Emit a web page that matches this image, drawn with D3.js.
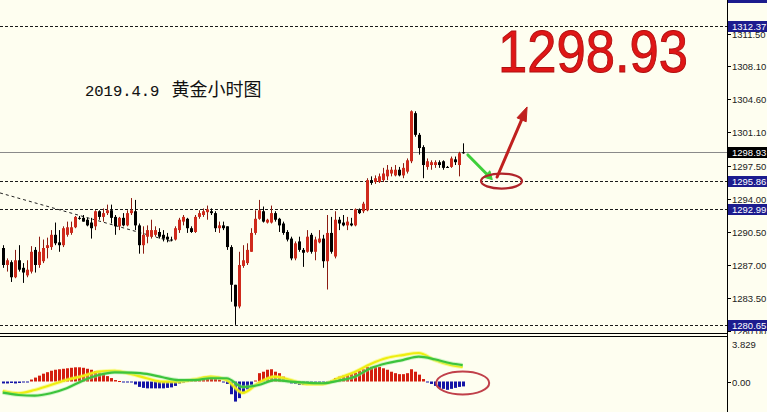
<!DOCTYPE html>
<html><head><meta charset="utf-8">
<script src="https://cdn.jsdelivr.net/npm/d3@7"></script>
<style>html,body{margin:0;padding:0;background:#fefef0;overflow:hidden}</style>
</head><body>
<svg id="c" width="767" height="412"></svg>
<script>
// ---------- DATA ----------
const openP = [
1288.8,1287.0,1287.3,1285.7,1287.5,1286.7,1285.9,1286.3,1288.6,1287.0,
1287.4,1288.8,1288.9,1290.2,1289.4,1289.1,1290.2,1290.4,1291.0,1292.0,
1292.0,1291.8,1291.5,1291.1,1292.7,1292.1,1292.5,1292.8,1292.1,1291.1,
1292.0,1291.2,1292.5,1292.7,1291.2,1289.1,1290.0,1290.0,1290.2,1290.5,
1290.2,1290.0,1289.7,1289.7,1290.7,1291.6,1291.9,1290.9,1290.5,1292.1,
1292.3,1292.6,1292.7,1292.5,1290.9,1291.2,1291.1,1288.9,1284.9,1282.6,
1286.9,1287.2,1288.4,1290.4,1291.9,1292.7,1291.5,1291.5,1292.5,1291.9,
1291.4,1290.5,1289.8,1287.7,1289.5,1288.6,1288.4,1290.2,1288.4,1289.4,
1289.8,1287.4,1290.4,1287.9,1291.8,1291.5,1291.2,1291.4,1291.2,1292.9,
1292.7,1292.8,1296.0,1295.8,1295.8,1296.0,1296.4,1296.7,1296.5,1297.1,
1296.5,1296.9,1298.0,1303.1,1300.8,1299.5,1297.4,1297.6,1297.6,1297.9,
1298.0,1297.4,1297.4,1298.2,1297.6,1298.95];
const highP = [
1289.1,1287.7,1287.5,1288.6,1289.1,1287.2,1287.5,1289.0,1288.9,1290.0,
1289.7,1289.9,1290.7,1291.5,1290.7,1291.1,1291.6,1291.6,1292.2,1292.2,
1292.3,1292.0,1292.0,1292.8,1292.8,1293.0,1293.4,1293.4,1292.3,1292.1,
1292.5,1292.8,1294.1,1293.9,1291.4,1291.1,1291.2,1291.8,1291.1,1290.9,
1290.7,1290.4,1290.0,1291.1,1292.0,1292.3,1292.0,1291.1,1292.3,1292.8,
1293.0,1293.3,1293.0,1292.7,1291.6,1291.6,1291.1,1289.1,1284.9,1288.4,
1289.1,1289.3,1290.9,1292.8,1293.9,1293.2,1291.9,1293.3,1292.7,1292.0,
1291.6,1290.7,1290.0,1289.5,1290.0,1288.8,1290.7,1290.4,1290.0,1290.7,
1290.2,1292.3,1292.1,1292.7,1292.1,1292.3,1292.1,1292.0,1293.0,1293.0,
1293.7,1296.2,1296.4,1296.5,1296.7,1297.3,1297.6,1297.4,1297.6,1297.4,
1297.8,1298.3,1303.4,1303.3,1301.0,1299.7,1298.3,1298.1,1298.1,1298.1,
1298.1,1297.5,1298.5,1298.5,1299.0,1299.9];
const lowP = [
1286.7,1286.3,1285.2,1285.6,1286.3,1285.1,1285.7,1286.1,1286.2,1286.7,
1287.2,1287.7,1288.6,1289.1,1288.4,1288.9,1290.0,1290.2,1290.9,1291.8,
1291.6,1291.1,1289.8,1290.7,1291.8,1291.6,1292.3,1291.4,1290.2,1290.7,
1291.1,1291.1,1292.3,1290.7,1288.2,1288.2,1289.3,1289.8,1290.0,1289.8,
1289.5,1289.4,1289.5,1289.6,1290.4,1291.2,1290.4,1290.4,1290.4,1291.9,
1292.1,1291.8,1292.3,1290.5,1290.4,1290.7,1288.6,1283.1,1280.65,1282.4,
1286.7,1287.0,1288.4,1290.2,1291.8,1291.5,1291.4,1291.4,1291.6,1290.5,
1290.2,1289.5,1287.5,1287.5,1288.4,1286.8,1288.3,1288.2,1287.5,1289.3,
1286.7,1284.4,1288.2,1287.7,1290.7,1291.1,1290.7,1291.1,1291.1,1292.4,
1292.5,1292.7,1295.5,1295.6,1295.7,1295.8,1296.0,1296.4,1296.4,1296.4,
1296.2,1296.7,1297.8,1300.6,1298.7,1296.2,1297.1,1297.1,1297.3,1297.3,
1297.1,1297.3,1297.3,1297.6,1296.4,1298.8];
const closeP = [
1287.0,1287.5,1285.7,1287.5,1286.5,1286.2,1286.5,1288.4,1287.0,1288.4,
1288.8,1289.1,1290.2,1289.3,1289.1,1290.9,1291.0,1291.0,1292.1,1292.0,
1291.6,1291.2,1290.9,1292.7,1292.1,1292.5,1292.8,1292.0,1291.1,1292.0,
1291.2,1292.5,1292.8,1291.2,1289.1,1290.2,1290.7,1290.7,1290.7,1290.0,
1289.8,1289.7,1289.7,1290.9,1291.8,1292.1,1290.9,1290.5,1292.1,1292.5,
1292.7,1292.9,1292.5,1290.9,1291.2,1290.9,1288.9,1284.9,1282.6,1287.0,
1287.5,1288.6,1290.4,1291.9,1292.8,1291.6,1291.8,1292.5,1291.8,1291.2,
1290.4,1289.7,1287.7,1289.3,1288.6,1288.3,1290.0,1288.4,1289.7,1289.8,
1287.4,1290.4,1288.4,1291.8,1291.4,1291.2,1291.6,1291.2,1292.9,1292.5,
1293.5,1296.0,1295.7,1296.2,1296.4,1296.7,1297.1,1297.1,1297.1,1296.5,
1297.3,1298.1,1303.3,1300.8,1299.4,1297.6,1298.0,1297.9,1297.9,1297.6,
1297.3,1297.4,1298.3,1297.9,1298.85,1298.93];

// MACD histogram (one per candle)
const macdHist = [
-0.2,-0.2,-0.15,-0.2,-0.15,-0.1,-0.05,0.2,0.4,0.6,
0.8,0.95,1.1,1.2,1.25,1.3,1.35,1.4,1.45,1.45,
1.4,1.3,1.2,1.05,0.9,0.75,0.55,0.35,0.15,0.05,
-0.05,-0.1,-0.1,-0.3,-0.55,-0.65,-0.7,-0.7,-0.7,-0.7,
-0.7,-0.65,-0.6,-0.45,-0.2,-0.1,0.05,0.1,0.2,0.35,
0.45,0.5,0.5,0.4,0.2,-0.1,-0.25,-1.3,-2.05,-1.7,
-1.2,-0.8,-0.35,0.1,0.85,1.0,1.2,1.25,1.0,0.85,
0.5,0.25,-0.2,-0.25,-0.35,-0.35,-0.3,-0.25,-0.2,-0.2,
-0.1,-0.1,0.1,0.35,0.5,0.6,0.65,0.75,0.9,1.1,
1.25,1.5,1.5,1.5,1.5,1.35,1.2,1.0,0.85,0.75,
0.75,0.85,1.25,1.0,0.7,0.25,-0.1,-0.25,-0.45,-0.65,
-0.75,-0.85,-0.75,-0.65,-0.55,-0.5];
// MACD lines sampled at candle indices
const lineIdx    = [1,5,9,13,17,21,25,29,33,37,41,45,49,53,57,61,65,69,73,77,81,85,89,93,97,101,105,109,113,116];
const yellowLine = [-0.97,-1.2,-0.87,-0.36,0.15,0.56,1.0,1.1,0.77,0.33,-0.02,-0.02,0.22,0.49,0.15,-1.17,-0.15,0.49,0.15,-0.26,-0.26,0.36,0.97,1.79,2.4,2.7,2.91,2.19,1.68,1.48];
const greenLine  = [-1.14,-1.38,-1.45,-1.2,-0.69,0.08,0.66,0.94,0.9,0.77,0.43,0.15,0.15,0.33,0.33,-0.56,-0.36,0.15,-0.02,-0.12,-0.18,0.08,0.49,1.35,1.86,2.19,2.53,2.27,1.86,1.68];

const priceTicks = [1311.50,1308.10,1304.60,1301.10,1297.50,1294.00,1290.50,1287.00,1283.50,1280.00];
const levelsBlue = [1312.37,1295.86,1292.99,1280.65];
const currentPrice = 1298.93;
const macdTicks = [3.829, 0.00];
const trendLine = {i0:0.33, p0:1294.64, i1:43.6, p1:1289.44};
const titleDate = "2019.4.9";
const titleText = "黄金小时图";

// ---------- SCALES ----------
const svg = d3.select("#c");
const W = 767, H = 412, axisX = 727;
const x = d3.scaleLinear().domain([1,116]).range([2.7,462.7]);
const y = d3.scaleLinear().domain([1280,1315.1]).range([331,0]);
const ym = d3.scaleLinear().domain([0,3.829]).range([381.5,344]);
const bg = "#fefef0";

svg.append("rect").attr("width",W).attr("height",H).attr("fill",bg);
const defs = svg.append("defs");
defs.append("clipPath").attr("id","mainClip").append("rect").attr("x",0).attr("y",0).attr("width",axisX).attr("height",333);
defs.append("clipPath").attr("id","subClip").append("rect").attr("x",0).attr("y",337).attr("width",axisX).attr("height",H-337);
defs.append("clipPath").attr("id","axClip").append("rect").attr("x",axisX).attr("y",0).attr("width",W-axisX).attr("height",334);

const main = svg.append("g").attr("clip-path","url(#mainClip)");

// level lines
main.selectAll("line.lvl").data(levelsBlue).join("line")
  .attr("x1",0).attr("x2",axisX).attr("y1",d=>Math.round(y(d))+0.5).attr("y2",d=>Math.round(y(d))+0.5)
  .attr("stroke","#1a1a1a").attr("stroke-width",1).attr("stroke-dasharray","3,2");
main.append("line").attr("x1",0).attr("x2",axisX)
  .attr("y1",Math.round(y(currentPrice))+0.5).attr("y2",Math.round(y(currentPrice))+0.5)
  .attr("stroke","#8a8a8a").attr("stroke-width",1);
// trend line
main.append("line")
  .attr("x1",x(trendLine.i0)).attr("y1",y(trendLine.p0)).attr("x2",x(trendLine.i1)).attr("y2",y(trendLine.p1))
  .attr("stroke","#222").attr("stroke-width",1).attr("stroke-dasharray","3,3");

// candles
const candles = d3.range(openP.length).map(i=>({i:i+1,o:openP[i],h:highP[i],l:lowP[i],c:closeP[i]}));
const up = d=>d.c>d.o;
const cg = main.append("g");
cg.selectAll("line.w").data(candles).join("line")
  .attr("x1",d=>Math.round(x(d.i))+0.5).attr("x2",d=>Math.round(x(d.i))+0.5)
  .attr("y1",d=>y(d.h)).attr("y2",d=>y(d.l))
  .attr("stroke",d=>up(d)?"#8c1c12":"#000").attr("stroke-width",1);
cg.selectAll("rect.b").data(candles).join("rect")
  .attr("x",d=>Math.round(x(d.i))-1).attr("width",3)
  .attr("y",d=>y(Math.max(d.o,d.c)))
  .attr("height",d=>Math.max(1,Math.abs(y(d.o)-y(d.c))))
  .attr("fill",d=>up(d)?"#cf2a1c":"#000");

// annotations
function arrow(g,x1,y1,x2,y2,col,w,hl,hw){
  const a=Math.atan2(y2-y1,x2-x1), bx=x2-hl*Math.cos(a), by=y2-hl*Math.sin(a);
  g.append("line").attr("x1",x1).attr("y1",y1).attr("x2",bx).attr("y2",by)
    .attr("stroke",col).attr("stroke-width",w).attr("stroke-linecap","round");
  const px=-Math.sin(a)*hw/2, py=Math.cos(a)*hw/2;
  g.append("path").attr("d",`M${x2},${y2}L${bx+px},${by+py}L${bx-px},${by-py}Z`).attr("fill",col).attr("stroke",col).attr("stroke-width",1);
}
const ann = svg.append("g");
arrow(ann, x(117.3), y(1298.67), x(123.4), y(1296.05), "#3fcf3a", 3, 8, 9);
ann.append("ellipse").attr("cx",x(125.7)).attr("cy",y(1295.9)).attr("rx",20.5).attr("ry",7.5)
  .attr("fill","none").attr("stroke","#b0242a").attr("stroke-width",2.2);
arrow(ann, x(124.6), y(1296.33), x(132.1), y(1303.76), "#c0201e", 3, 14, 10);

// title
const tt = svg.append("text").attr("x",85).attr("y",96).attr("fill","#111");
tt.append("tspan").attr("font-family","Liberation Mono, monospace").attr("font-size",15.5)
  .attr("stroke","#111").attr("stroke-width",0.12).text(titleDate);
tt.append("tspan").attr("dx",12).attr("font-family","Noto Sans CJK SC, sans-serif").attr("font-size",18).text(titleText);

// big price text
svg.append("text").attr("x",498).attr("y",72).attr("font-family","Liberation Sans, Arial, sans-serif")
  .attr("font-size",60).attr("textLength",190).attr("lengthAdjust","spacingAndGlyphs")
  .attr("fill","#e01616").attr("stroke","#b01010").attr("stroke-width",1).text(currentPrice.toFixed(2));

// panel borders
svg.append("line").attr("x1",0).attr("x2",axisX).attr("y1",333.5).attr("y2",333.5).attr("stroke","#000");
svg.append("line").attr("x1",0).attr("x2",axisX).attr("y1",336.5).attr("y2",336.5).attr("stroke","#000");

// MACD
const sub = svg.append("g").attr("clip-path","url(#subClip)");
sub.selectAll("rect.h").data(macdHist.map((v,i)=>({i:i+1,v}))).join("rect")
  .attr("x",d=>Math.round(x(d.i))-1).attr("width",3)
  .attr("y",d=>Math.min(ym(0),ym(d.v))).attr("height",d=>Math.max(1,Math.abs(ym(d.v)-ym(0))))
  .attr("fill",d=>d.v>=0?"#d41e0e":"#1414a6");
const lineGen = d3.line().x(d=>x(d[0])).y(d=>ym(d[1])).curve(d3.curveMonotoneX);
const yPts = lineIdx.map((k,j)=>[k,yellowLine[j]]);
const gPts = lineIdx.map((k,j)=>[k,greenLine[j]]);
sub.append("path").attr("d",lineGen(yPts)).attr("fill","none").attr("stroke","#f6f84a").attr("stroke-width",4).attr("opacity",0.45);
sub.append("path").attr("d",lineGen(yPts)).attr("fill","none").attr("stroke","#eeee10").attr("stroke-width",2.2);
sub.append("path").attr("d",lineGen(gPts)).attr("fill","none").attr("stroke","#9ee89a").attr("stroke-width",4).attr("opacity",0.45);
sub.append("path").attr("d",lineGen(gPts)).attr("fill","none").attr("stroke","#3cc43c").attr("stroke-width",2.2);
sub.append("ellipse").attr("cx",x(116)).attr("cy",383).attr("rx",26.5).attr("ry",11.5)
  .attr("fill","none").attr("stroke","#c0404a").attr("stroke-width",2);

// right axis
svg.append("line").attr("x1",axisX+0.5).attr("x2",axisX+0.5).attr("y1",0).attr("y2",H).attr("stroke","#000");
const ax = svg.append("g").attr("clip-path","url(#axClip)").attr("font-family","Liberation Sans, Arial, sans-serif").attr("font-size",9.5);
const lbl = (g,yy,t,col)=>g.append("text").attr("x",732).attr("y",yy+3.5).attr("fill",col).text(t);
priceTicks.forEach(t=>{
  const yy=Math.round(y(t))+0.5;
  ax.append("line").attr("x1",axisX).attr("x2",axisX+4).attr("y1",yy).attr("y2",yy).attr("stroke","#000");
  lbl(ax,yy,t.toFixed(2),"#222");
});
// top partially visible label
ax.append("rect").attr("x",axisX+1).attr("y",-8).attr("width",W-axisX-1).attr("height",11).attr("fill","#1c1c8e");
levelsBlue.forEach(t=>{
  const yy=Math.round(y(t))+0.5;
  ax.append("rect").attr("x",axisX+1).attr("y",yy-5.5).attr("width",W-axisX-1).attr("height",11).attr("fill","#1c1c8e");
  lbl(ax,yy,t.toFixed(2),"#fff");
});
{
  const yy=Math.round(y(currentPrice))+0.5;
  ax.append("rect").attr("x",axisX+1).attr("y",yy-5.5).attr("width",W-axisX-1).attr("height",11).attr("fill","#000");
  lbl(ax,yy,currentPrice.toFixed(2),"#fff");
}
const axm = svg.append("g").attr("font-family","Liberation Sans, Arial, sans-serif").attr("font-size",9.5);
macdTicks.forEach((t,k)=>{
  const yy=Math.round(ym(t))+0.5;
  if(k>0) axm.append("line").attr("x1",axisX).attr("x2",axisX+4).attr("y1",yy).attr("y2",yy).attr("stroke","#000");
  axm.append("text").attr("x",732).attr("y",yy+3.5).attr("fill","#222").text(k===0?t.toFixed(3):t.toFixed(2));
});
</script>
</body></html>
